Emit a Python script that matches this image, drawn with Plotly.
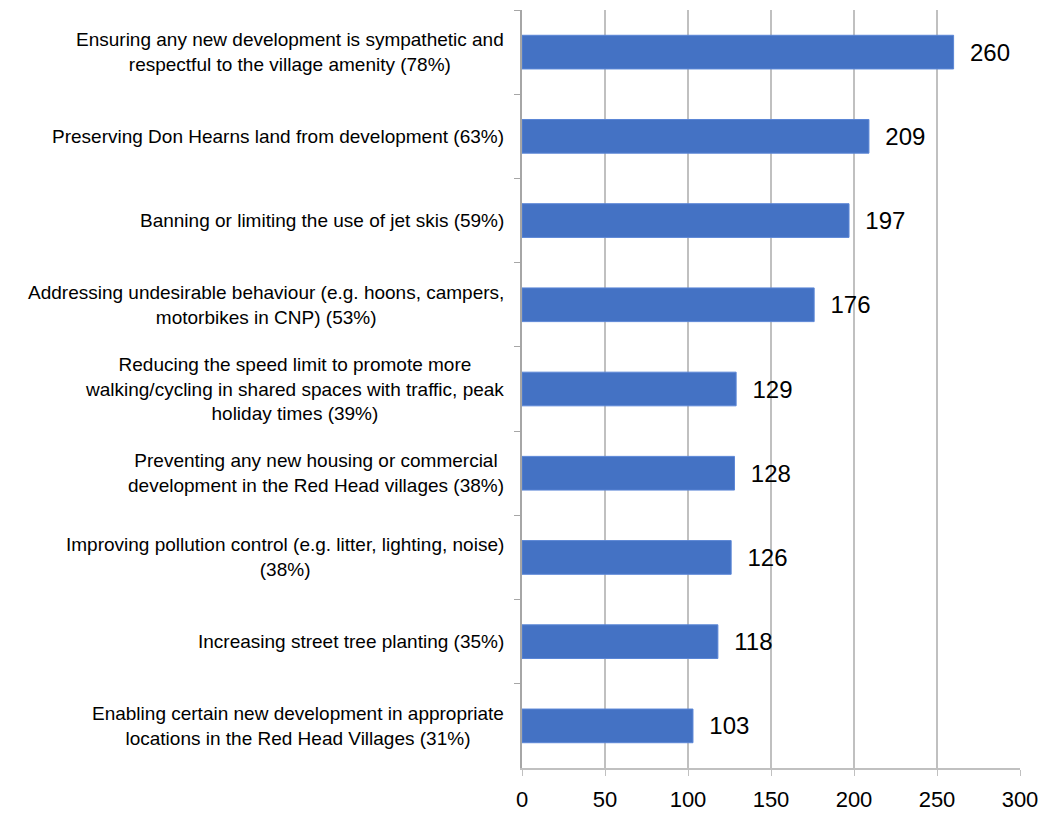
import plotly.graph_objects as go

categories = [
    "Ensuring any new development is sympathetic and<br>respectful to the village amenity (78%)",
    "Preserving Don Hearns land from development (63%)",
    "Banning or limiting the use of jet skis (59%)",
    "Addressing undesirable behaviour (e.g. hoons, campers,<br>motorbikes in CNP) (53%)",
    "Reducing the speed limit to promote more<br>walking/cycling in shared spaces with traffic, peak<br>holiday times (39%)",
    "Preventing any new housing or commercial<br>development in the Red Head villages (38%)",
    "Improving pollution control (e.g. litter, lighting, noise)<br>(38%)",
    "Increasing street tree planting (35%)",
    "Enabling certain new development in appropriate<br>locations in the Red Head Villages (31%)",
]
values = [260, 209, 197, 176, 129, 128, 126, 118, 103]
x_ticks = [0, 50, 100, 150, 200, 250, 300]

ids = [f"c{i}" for i in range(len(categories))]

fig = go.Figure()
fig.add_trace(go.Bar(
    y=ids, x=values, orientation="h",
    marker=dict(color="#4472C4", line=dict(color="#5b86d6", width=1)),
    text=[f"  {v}" for v in values], textposition="outside",
    textfont=dict(family="Liberation Sans, Arial", size=24, color="#000000"),
    cliponaxis=False,
))

for cid, lab in zip(ids, categories):
    fig.add_annotation(
        x=0, xref="paper", y=cid, yref="y", text=lab,
        xanchor="right", yanchor="middle", align="center", xshift=-16,
        showarrow=False,
        font=dict(family="Liberation Sans, Arial", size=19, color="#000000"),
    )

fig.update_layout(
    width=1046, height=817,
    margin=dict(l=514, r=34, t=2, b=57, autoexpand=False),
    plot_bgcolor="white", paper_bgcolor="white",
    bargap=0.6, showlegend=False,
    xaxis=dict(
        range=[0, 300], tickvals=x_ticks, showgrid=True, gridcolor="#c0c0c0", gridwidth=1.5,
        showline=True, linecolor="#c0c0c0", linewidth=1.5,
        ticks="outside", ticklen=6, tickcolor="#c0c0c0",
        tickfont=dict(family="Liberation Sans, Arial", size=22, color="#000000"),
        ticklabelstandoff=5, zeroline=False, automargin=False,
    ),
    yaxis=dict(
        categoryorder="array", categoryarray=ids, autorange="reversed",
        showticklabels=False, showline=True, linecolor="#a6a6a6", linewidth=1.5,
        ticks="outside", ticklen=6, tickcolor="#a6a6a6", tickson="boundaries",
        showgrid=False, automargin=False,
    ),
)

fig.write_html("out.html")
